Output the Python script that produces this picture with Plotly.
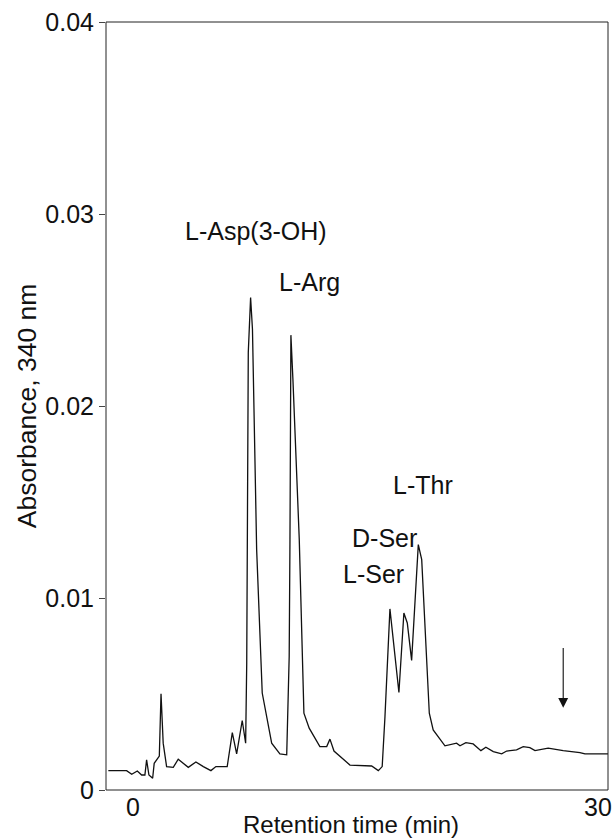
import plotly.graph_objects as go

# Chromatogram trace (retention time in min, absorbance at 340 nm)
time_min = [-1.59, -0.41, -0.08, 0.28, 0.56, 0.77, 0.88, 1.03, 1.27, 1.37, 1.70, 1.81, 1.95, 2.17,
            2.60, 2.92, 3.57, 4.06, 4.54, 5.03, 5.35, 6.08, 6.41, 6.69, 7.05, 7.27, 7.34, 7.44,
            7.59, 7.71, 7.98, 8.34, 8.95, 9.48, 9.92, 10.08, 10.13, 10.19, 10.32, 10.73, 11.03,
            11.37, 12.06, 12.50, 12.71, 12.97, 14.00, 15.40, 15.83, 16.08, 16.26, 16.58, 17.16,
            17.48, 17.70, 17.98, 18.41, 18.63, 19.12, 19.37, 20.13, 20.88, 21.10, 21.48, 21.95,
            22.45, 22.77, 23.25, 23.79, 24.11, 24.75, 25.18, 25.61, 25.94, 26.79, 27.76, 28.84,
            29.16, 30.65]
absorbance = [0.00101, 0.00101, 0.00082, 0.00099, 0.00078, 0.00078, 0.00157, 0.00078, 0.00061,
              0.00139, 0.00177, 0.00501, 0.00244, 0.00122, 0.00118, 0.00160, 0.00118, 0.00146,
              0.00122, 0.00101, 0.00122, 0.00122, 0.00299, 0.00188, 0.00362, 0.00244, 0.00661,
              0.02278, 0.02565, 0.02400, 0.01252, 0.00505, 0.00244, 0.00188, 0.00183, 0.00695,
              0.01304, 0.02369, 0.02140, 0.01304, 0.00400, 0.00322, 0.00226, 0.00226, 0.00265,
              0.00203, 0.00130, 0.00125, 0.00101, 0.00122, 0.00382, 0.00943, 0.00508, 0.00922,
              0.00870, 0.00675, 0.01278, 0.01200, 0.00400, 0.00313, 0.00230, 0.00244, 0.00230,
              0.00247, 0.00240, 0.00205, 0.00223, 0.00200, 0.00188, 0.00203, 0.00209, 0.00226,
              0.00221, 0.00205, 0.00218, 0.00205, 0.00195, 0.00188, 0.00188]

# Peak labels
peak_names = ["L-Asp(3-OH)", "L-Arg", "L-Thr", "D-Ser", "L-Ser"]
peak_label_x = [7.94, 11.42, 18.71, 16.26, 15.55]
peak_label_y = [0.02911, 0.02645, 0.01586, 0.01315, 0.01127]

# Arrow marker (x, start y, tip y)
arrow_x = 27.76
arrow_y_start = 0.00748
arrow_y_tip = 0.00428

x_tick_vals = [0, 30]
x_tick_text = ["0", "30"]
y_tick_vals = [0, 0.01, 0.02, 0.03, 0.04]
y_tick_text = ["0", "0.01", "0.02", "0.03", "0.04"]

FONT = "Liberation Sans, Arial, Helvetica, sans-serif"

fig = go.Figure()
fig.add_trace(go.Scatter(x=time_min, y=absorbance, mode="lines",
                         line=dict(color="#111111", width=1.3), showlegend=False,
                         hoverinfo="skip", cliponaxis=True))

annotations = []
for name, lx, ly in zip(peak_names, peak_label_x, peak_label_y):
    annotations.append(dict(x=lx, y=ly, xref="x", yref="y", text=name, showarrow=False,
                            font=dict(family=FONT, size=25, color="#111111"),
                            xanchor="center", yanchor="middle"))

annotations.append(dict(x=arrow_x, y=arrow_y_tip, ax=arrow_x, ay=arrow_y_start,
                        xref="x", yref="y", axref="x", ayref="y", text="",
                        showarrow=True, arrowhead=2, arrowsize=1.8, arrowwidth=1.1,
                        arrowcolor="#111111"))

# Axis titles as annotations for precise placement
annotations.append(dict(x=0.488, y=-0.0445, xref="paper", yref="paper",
                        text="Retention time (min)", showarrow=False,
                        font=dict(family=FONT, size=24, color="#111111"),
                        xanchor="center", yanchor="middle"))
annotations.append(dict(x=-0.157, y=0.5, xref="paper", yref="paper",
                        text="Absorbance, 340 nm", showarrow=False, textangle=-90,
                        font=dict(family=FONT, size=26.5, color="#111111"),
                        xanchor="center", yanchor="middle"))

fig.update_layout(
    width=616, height=839,
    margin=dict(l=106, r=8, t=22, b=49, autoexpand=False),
    paper_bgcolor="white", plot_bgcolor="white",
    font=dict(family=FONT, size=25, color="#111111"),
    annotations=annotations,
    shapes=[dict(type="rect", xref="paper", yref="paper", x0=0, y0=0, x1=1, y1=1,
                 line=dict(color="#222222", width=1), fillcolor="rgba(0,0,0,0)",
                 layer="above")],
    xaxis=dict(range=[-1.74, 30.65], tickvals=x_tick_vals, ticktext=x_tick_text,
               showgrid=False, zeroline=False, showline=False, automargin=False,
               ticks="", tickfont=dict(size=25), ticklabeloverflow="allow"),
    yaxis=dict(range=[0, 0.04], tickvals=y_tick_vals, ticktext=y_tick_text,
               showgrid=False, zeroline=False, showline=False, automargin=False,
               ticks="outside", ticklen=6, tickcolor="#444444",
               tickwidth=1, tickfont=dict(size=25), ticklabeloverflow="allow"),
)

fig.write_html("out.html",
               config={"displayModeBar": False, "staticPlot": True},
               post_script="document.body.style.margin='0';"
                           "document.body.style.overflow='hidden';")
